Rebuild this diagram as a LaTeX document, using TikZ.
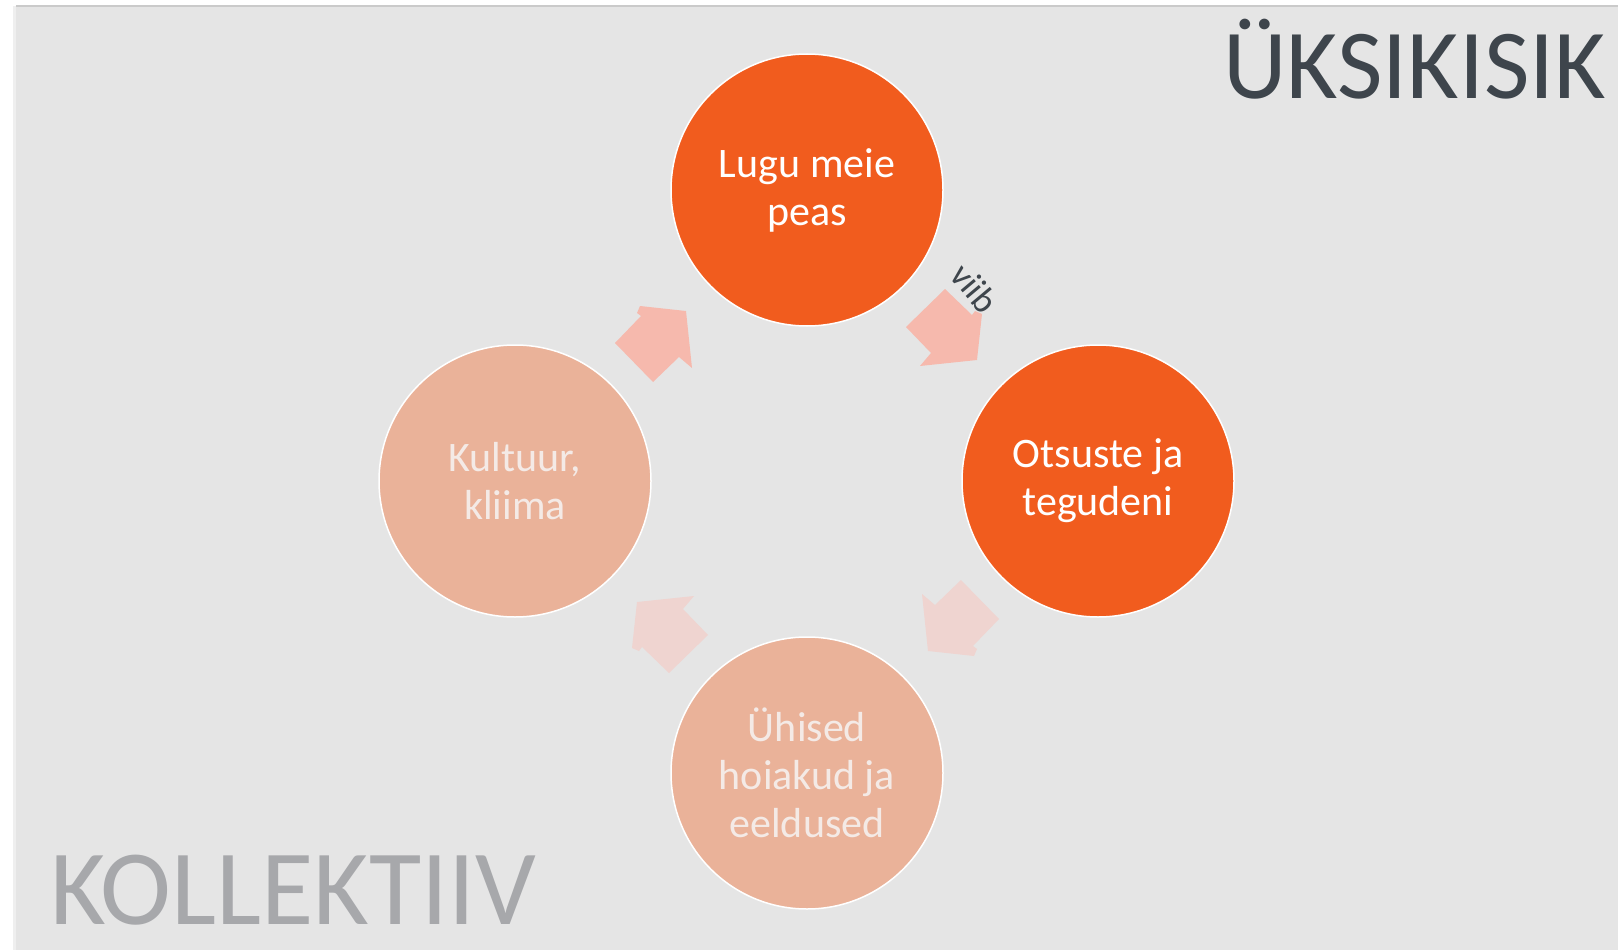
\documentclass[tikz,border=0pt]{standalone}
\usepackage{fontspec}
\setmainfont{Carlito}
\definecolor{hotorange}{HTML}{F15C1E}
\definecolor{softsalmon}{HTML}{EAB299}
\definecolor{softtext}{HTML}{F4EAE6}
\definecolor{arrowA}{HTML}{F6B9AD}
\definecolor{arrowB}{HTML}{EFD4D0}
\definecolor{bggray}{HTML}{E5E5E5}
\definecolor{bordergray}{HTML}{CACACA}
\definecolor{leftline}{HTML}{EFEFEF}
\definecolor{darktext}{HTML}{3E454C}
\definecolor{graytext}{HTML}{A7A8AB}
\begin{document}
\begin{tikzpicture}[x=1pt,y=-1pt,
  circ/.style={circle, minimum size=272pt, inner sep=0pt, draw=white, line width=1.5pt, align=center, font=\fontsize{42}{48}\selectfont},
  hot/.style={circ, fill=hotorange, text=white},
  soft/.style={circ, fill=softsalmon, text=softtext},
  bigword/.style={inner sep=0pt}
]
\useasboundingbox (0,0) rectangle (1618,950);
\fill[white] (0,0) rectangle (1618,950);
\fill[bggray] (16,6) rectangle (1618,950);
\draw[bordergray, line width=1.5pt] (16,6) -- (1618,6);
\draw[leftline, line width=3pt] (14.5,6) -- (14.5,950);

\foreach \r/\c in {0/arrowA, -90/arrowA, -180/arrowB, -270/arrowB} {
  \fill[\c, shift={(807,481)}, rotate=\r]
    (-192,-138) -- (-166,-165) -- (-170,-168) -- (-167,-175) -- (-121,-170)
    -- (-115,-113) -- (-128,-124) -- (-154,-99) -- cycle;
}

\node[hot]  (lugu)  at (807,190) {Lugu meie\\peas};
\node[hot]  (otsus) at (1098,481) {Otsuste ja\\tegudeni};
\node[soft] (uhised) at (807,773) {Ühised\\hoiakud ja\\eeldused};
\node[soft] (kult)  at (515,481) {Kultuur,\\kliima};

\node[font=\fontsize{36}{36}\selectfont, text=darktext, rotate=-50, inner sep=0pt] (viib) at (975,288) {viib};

\node[bigword, font=\fontsize{99}{99}\selectfont, text=darktext, anchor=base east] (uks) at (1606,99) {ÜKSIKISIK};
\node[bigword, font=\fontsize{107}{107}\selectfont, text=graytext, anchor=base west] (kol) at (50,924) {KOLLEKTIIV};
\end{tikzpicture}
\end{document}
